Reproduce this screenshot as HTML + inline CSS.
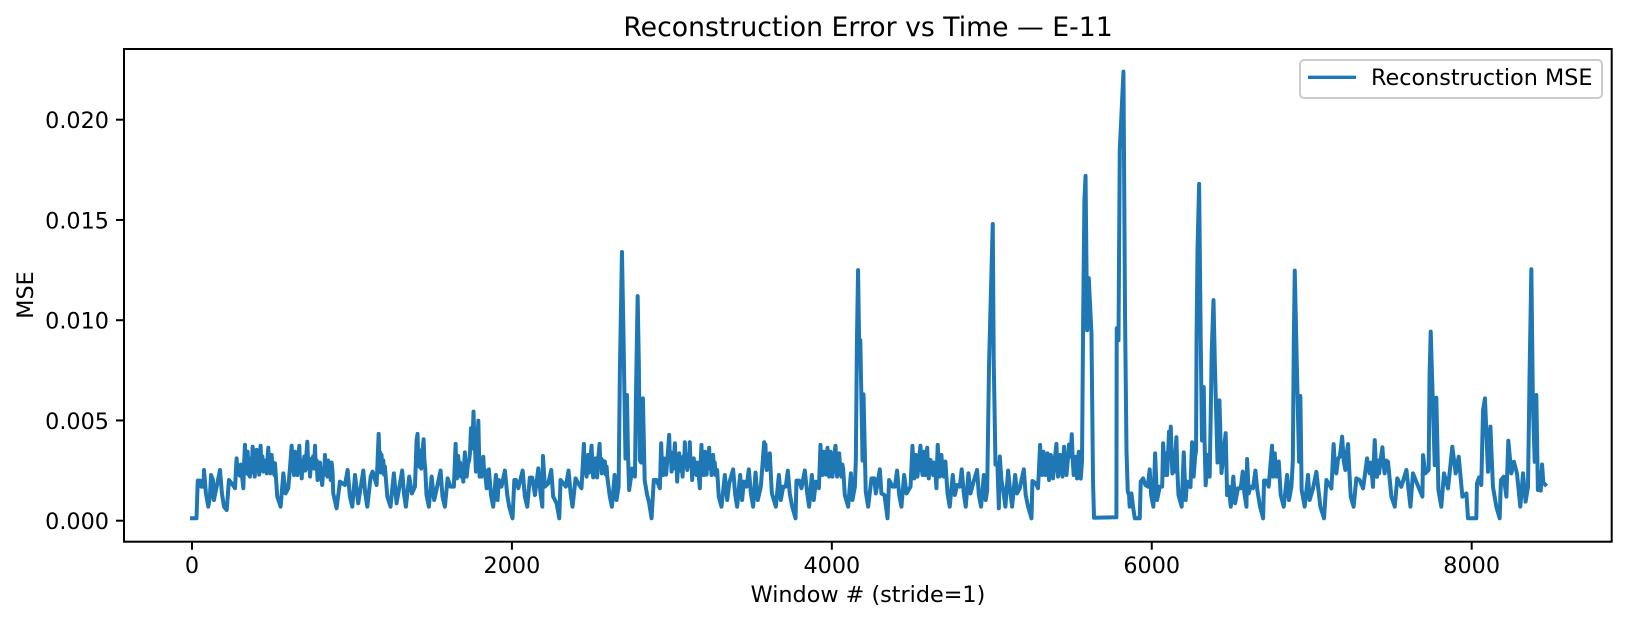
<!DOCTYPE html>
<html lang="en">
<head>
<meta charset="utf-8">
<title>Reconstruction Error vs Time — E-11</title>
<style>
  html, body { margin: 0; padding: 0; background: #ffffff; }
  body { width: 1628px; height: 622px; overflow: hidden; }
  svg { display: block; }
  text { font-family: "DejaVu Sans", "Liberation Sans", sans-serif; fill: #000000; }
</style>
</head>
<body>
<svg id="chart" xmlns="http://www.w3.org/2000/svg" width="1628" height="622" viewBox="0 0 1628 622">
  <rect x="0" y="0" width="1628" height="622" fill="#ffffff"/>
  <text x="868" y="36" font-size="26.7" text-anchor="middle">Reconstruction Error vs Time — E-11</text>
  <g id="marks"></g>
  <g id="ticks"></g>
  <rect x="124" y="49" width="1487.7" height="492.7" fill="none" stroke="#000000" stroke-width="2"/>
  <text x="868" y="602" font-size="22.3" text-anchor="middle">Window # (stride=1)</text>
  <text transform="translate(33 295) rotate(-90)" font-size="22.3" text-anchor="middle">MSE</text>
  <g>
    <rect x="1300" y="60" width="302" height="38" rx="4" ry="4" fill="#ffffff" fill-opacity="0.8" stroke="#cccccc" stroke-width="2"/>
    <line x1="1308" y1="77.3" x2="1356" y2="77.3" stroke="#1f77b4" stroke-width="3.4"/>
    <text x="1371" y="85" font-size="22.3">Reconstruction MSE</text>
  </g>
</svg>
<script>
const xTickValues = [0, 2000, 4000, 6000, 8000];
const yTickValues = [0, 0.005, 0.01, 0.015, 0.02];
const yTickLabels = ["0.000", "0.005", "0.010", "0.015", "0.020"];

const windows = [
0,28,36,50,58,72,75,87,102,112,
119,131,137,154,175,187,200,217,231,248,
269,275,279,285,292,298,306,313,
321,326,331,336,340,344,348,353,
358,362,368,373,379,384,388,392,
398,404,410,415,420,425,429,434,
440,446,452,457,462,467,472,477,
483,487,490,495,498,504,510,515,
519,533,554,571,585,602,
612,623,628,633,638,644,649,654,
659,665,671,676,681,686,691,696,
702,708,715,721,727,733,738,744,
750,757,763,769,774,779,785,790,
795,800,807,814,821,826,831,836,
842,847,851,856,861,867,873,879,
883,904,925,956,973,987,1002,1019,1039,1071,
1083,1096,1117,1129,1154,
1167,1172,1177,1181,1185,1190,1196,1201,1206,1213,
1221,1241,1262,1279,1314,1325,1337,1358,1375,1394,
1404,1410,1415,1421,1427,1433,1440,1448,1453,1458,
1466,1481,1498,1514,1533,1554,1566,1581,1598,1616,1637,
1648,1652,1656,1660,1664,1670,1676,1681,
1690,1696,1701,1706,1711,1717,1725,1733,
1738,1744,1752,1760,1765,1769,1775,1783,
1790,1795,1798,1804,1810,1815,1821,1826,
1831,1837,1842,1856,1869,1883,1900,1910,1919,1935,
1956,1971,1983,2004,2015,2025,2040,2067,2081,2096,
2112,2127,2144,2165,2179,2190,2194,2206,2227,2246,
2258,2279,2296,2304,2321,2337,2354,2367,2379,2398,
2415,2435,
2450,2455,2459,2463,2467,2472,2477,2482,
2487,2492,2498,2503,2508,2513,2518,2523,
2528,2533,2538,2543,2548,2553,2558,2562,
2568,2574,2581,2587,2592,2596,
2612,2625,2642,2654,2667,2675,2688,2698,2710,2719,
2726,2733,2752,2769,2776,2786,2793,2800,2808,2819,
2830,2845,2858,2873,2887,2904,2925,
2933,2938,2946,2952,2958,2964,2971,2977,
2983,2988,2993,2998,3004,3009,3014,3019,
3024,3028,3033,3040,3046,3052,3058,3067,
3072,3076,3081,3086,3091,3096,3102,3107,
3112,3117,3122,3127,3132,3137,3143,3148,
3154,3160,3167,3175,3180,3185,3190,3195,
3200,3204,3208,3213,3217,3222,3228,3233,
3238,3243,3248,3253,3258,3263,3268,3273,
3283,3293,3310,3331,3346,3358,3383,3396,3408,3427,
3439,3450,3467,3481,3494,3508,3523,3537,3556,
3577,3581,3585,3589,3593,3600,3606,3612,
3618,3625,3650,3669,3681,3696,3712,3725,3737,3752,
3773,3779,3796,3810,3831,3846,3858,3875,3887,3900,3919,
3929,3934,3940,3945,3950,3956,3962,3967,
3973,3978,3983,3987,3992,3998,4004,4010,
4016,4023,4028,4033,4040,4046,4053,4060,
4066,4071,4081,4102,4119,4129,4144,4150,4157,4164,
4172,4178,4192,4198,4206,4212,4227,4248,4265,4275,
4300,4310,4329,4348,4358,4379,4394,4408,4421,4435,
4452,4467,4492,
4504,4509,4515,4520,4525,4530,4535,4545,
4554,4560,4567,4571,4575,4580,4585,4590,
4596,4601,4606,4611,4617,4625,4633,4639,
4644,4649,4654,4658,4662,4668,4675,4680,
4685,4692,4700,4705,4710,4723,4737,4756,4769,4783,
4800,4812,4825,4837,4854,4867,4883,4908,4919,4933,
4950,4962,4971,4983,4996,5006,5012,5023,5035,5044,
5050,5060,5071,5085,5102,5112,5127,5146,5158,5175,
5200,5212,5227,5248,5254,5275,5289,
5302,5307,5314,5318,5323,5329,5335,5341,
5348,5353,5358,5363,5369,5376,5383,5390,
5397,5404,5409,5414,5421,5429,5435,5442,
5447,5452,5458,5467,5475,5483,5492,5500,
5506,5512,5517,5523,5528,5533,5538,5544,
5550,5556,5564,5571,5579,5586,5596,5606,5623,5633,
5639,5779,5781,5792,5800,5812,5823,5833,5842,5850,
5858,5862,5873,5883,5894,5925,5931,5946,5960,5975,
5987,5996,6010,6021,6033,6050,6065,6071,6081,6087,
6096,6108,6113,6119,6124,6129,6135,6142,6148,6154,
6160,6167,6187,6200,6212,6221,6242,6252,6262,6271,
6277,6280,6286,6296,6306,6314,6325,6330,6337,6352,
6362,6368,6375,6386,6394,6411,6423,6436,6462,6471,
6481,6494,6510,6521,6539,6556,6569,6579,6592,6596,
6606,6617,6633,6648,6660,6677,6696,6702,6717,6731,
6752,6755,6758,6763,6769,6774,6779,6787,
6794,6806,6825,6846,6858,6873,6882,6888,6894,6908,
6921,6929,6937,6956,6977,6987,7008,7029,7054,7077,
7092,7123,
7137,7145,7154,7165,7175,7182,7190,7200,
7210,7218,7227,7235,7244,7262,7279,7300,7321,
7346,7354,7362,7370,7383,7390,7394,7401,7408,7414,
7421,7430,7442,7449,7456,7466,7477,7498,7519,7535,
7560,7592,7617,7633,7658,7692,7696,7710,7731,7737,
7744,7758,7769,7779,7792,7810,7827,7852,7879,7900,
7919,7942,7967,7977,8029,8033,8046,8060,8071,8083,
8102,8117,8133,8154,8175,8183,8200,8217,8229,8248,
8264,8283,8304,8321,8337,8352,8362,8373,8383,8394,
8404,8414,8425,8432,8440,8448,8460
];

const mseMilli = [
.12,.12,2.0,2.0,1.7,1.7,2.53,1.36,.70,1.2,
2.28,2.03,1.03,1.7,2.53,1.36,.70,.53,2.03,1.86,
1.62,2.6,3.11,2.4,2.7,2.25,2.8,2.2,
1.62,2.9,3.78,2.5,3.2,2.35,3.44,2.3,
3.1,2.2,3.0,2.4,3.69,2.6,3.2,2.2,
2.9,3.53,2.5,3.1,2.3,3.2,3.74,2.6,
3.2,2.45,3.0,2.5,2.9,2.36,3.1,3.64,
2.6,3.0,2.36,2.9,3.28,2.5,2.9,2.28,
2.86,1.2,.70,2.36,1.36,1.62,
2.6,3.74,2.5,3.1,2.28,3.44,2.4,3.0,
2.28,3.2,3.74,2.5,3.0,2.11,2.9,2.53,
3.2,2.5,3.3,3.94,2.6,3.1,2.2,3.0,
2.7,3.2,2.6,3.74,2.6,3.0,2.03,2.9,
2.4,2.9,2.2,1.78,2.6,2.3,3.28,2.4,
2.9,2.2,3.0,2.5,2.86,2.03,2.9,2.4,
1.36,.62,1.95,1.78,2.53,1.2,.70,2.28,.87,2.5,
1.36,.70,2.2,2.45,1.78,
4.33,3.0,3.4,2.4,3.28,2.5,3.0,2.3,2.7,2.0,
1.2,.70,2.36,.87,2.5,1.36,.70,2.2,1.36,1.7,
4.03,4.33,3.0,2.7,3.5,2.6,3.4,4.06,3.0,2.62,
1.28,.70,2.2,1.03,1.7,2.5,1.2,.70,2.11,1.7,1.7,
3.83,2.7,2.11,2.9,3.23,2.4,2.9,2.2,
2.7,1.95,2.8,3.41,2.5,2.2,2.8,3.03,
3.4,4.61,3.6,5.44,4.0,3.69,2.45,3.5,
4.99,3.2,2.2,2.9,2.2,2.8,3.19,2.4,
2.53,2.0,1.62,2.56,1.28,.70,2.28,1.03,2.03,1.7,
2.5,1.28,.70,.12,2.03,2.03,1.62,2.5,1.2,.70,
2.15,2.15,1.28,2.61,1.36,.70,3.23,1.7,1.86,2.53,
1.2,.87,.12,2.03,1.86,1.7,2.5,1.36,.70,2.11,
1.86,1.62,
3.83,2.6,3.1,2.4,2.2,2.9,3.28,2.4,
2.9,3.2,3.74,2.7,2.16,2.9,2.4,3.11,
2.5,2.16,3.0,3.4,3.83,2.8,3.1,2.36,
3.0,2.5,2.95,2.3,2.7,2.2,
1.2,.70,2.28,1.03,1.7,7.5,13.4,9.0,3.1,6.27,
3.2,1.53,2.6,2.2,6.5,11.2,8.0,3.0,2.9,6.1,
2.0,1.3,.88,.12,2.03,2.03,1.62,
3.86,2.8,2.28,3.1,2.86,2.3,3.0,3.6,
4.28,3.0,3.4,2.45,3.36,2.6,3.3,3.86,
2.7,3.1,1.95,3.0,3.36,2.5,3.1,2.2,
3.2,2.7,3.91,2.8,3.2,2.53,3.3,2.8,
3.91,2.7,3.1,2.03,2.9,3.11,2.4,2.9,
2.28,2.9,2.3,1.62,2.9,3.78,2.6,3.1,
2.28,3.0,3.44,2.5,2.3,3.0,2.7,3.64,
2.6,3.0,2.28,2.9,3.28,2.5,2.9,2.28,
2.53,1.2,.70,2.28,1.03,1.86,2.56,1.28,.70,2.28,
1.03,1.95,1.7,2.56,1.36,.70,2.4,1.03,1.7,
3.91,2.9,3.8,2.8,2.53,3.1,2.7,3.36,
2.4,1.36,.70,2.28,1.03,1.7,1.7,2.5,1.36,.70,
.12,2.0,2.0,1.62,2.5,1.36,.70,2.28,1.03,1.95,1.62,
3.78,2.8,2.28,3.0,3.44,2.5,2.3,3.0,
3.64,2.6,2.2,2.9,3.44,2.6,2.2,2.9,
3.3,3.74,2.7,2.2,2.9,3.36,2.5,2.2,
2.8,2.56,1.28,.70,2.36,1.03,1.7,3.0,9.0,12.5,
8.0,9.0,3.0,6.3,3.5,1.45,.70,2.11,2.11,1.36,
2.56,1.36,1.28,.12,2.03,1.7,1.7,2.5,1.28,.70,
2.28,1.36,1.7,
3.73,2.8,2.11,2.9,3.28,2.5,2.2,3.0,
3.74,2.7,2.28,3.0,3.44,2.5,2.28,3.0,
3.64,2.7,2.11,2.8,3.03,2.5,2.28,2.9,
2.7,2.2,1.62,2.9,3.78,2.7,2.2,2.9,
3.28,2.5,2.2,2.7,2.95,1.36,.70,2.28,1.28,1.78,
1.7,2.56,1.36,.70,2.36,1.36,1.86,2.53,1.28,.70,
2.28,1.03,1.5,7.86,11.85,14.8,8.0,2.8,2.86,.62,
3.2,2.03,1.53,.70,2.5,1.7,.70,2.28,1.36,1.62,
2.56,1.28,.70,.12,1.98,1.86,1.62,
3.78,2.8,2.28,3.0,3.44,2.5,2.28,2.9,
3.36,2.6,2.03,2.9,3.28,2.5,2.11,2.9,
3.3,3.83,2.7,2.2,2.9,3.28,2.5,2.2,
3.0,3.69,2.7,2.28,3.0,3.8,3.2,4.31,
3.0,2.28,2.9,3.19,2.5,2.11,2.9,3.44,
2.4,2.1,3.0,10.0,16.0,17.2,9.5,12.1,9.35,1.9,
.15,.17,9.6,9.0,18.5,20.5,22.4,10.2,3.5,1.45,
1.28,.70,1.36,.70,.12,.12,1.95,2.11,1.78,1.7,
2.56,1.28,.70,3.36,1.03,1.7,1.7,3.86,2.28,3.36,
2.28,4.44,3.2,4.69,3.3,2.36,3.1,2.45,3.4,4.16,
2.5,1.28,.70,3.41,1.03,1.95,1.67,3.91,2.2,3.19,
3.5,9.0,13.5,16.8,9.0,4.0,6.66,4.0,1.77,3.28,
2.2,5.0,8.5,11.0,8.0,2.9,6.0,2.38,4.37,1.28,
1.7,.70,2.2,.87,1.62,1.62,2.45,1.36,.70,3.08,
1.36,1.7,1.62,2.5,1.53,.70,.12,2.0,2.0,1.7,
3.74,2.8,2.2,2.9,3.36,2.5,2.2,2.7,
2.95,1.28,.70,2.28,1.03,1.7,3.0,9.0,12.47,7.35,
2.94,6.22,1.53,.70,2.28,1.03,1.61,2.44,.70,.12,
2.03,1.61,
3.82,2.8,2.36,3.1,3.19,3.6,4.19,3.0,
2.53,3.3,3.82,2.5,1.2,.70,2.11,2.03,1.61,
3.11,2.6,2.36,2.9,1.69,3.3,4.02,2.8,2.19,3.0,
2.36,3.0,3.66,2.8,2.36,3.0,2.94,1.2,.70,2.11,
1.69,2.53,.70,2.36,1.86,1.2,3.27,2.36,2.53,7.35,
9.43,5.69,2.77,6.13,1.53,.70,2.36,1.61,3.69,2.36,
3.19,1.2,1.36,.12,.12,1.86,2.16,1.78,5.52,6.1,
2.44,4.69,1.69,.70,.12,2.03,2.19,1.2,3.99,2.36,
2.94,2.36,.70,2.36,.95,1.69,7.35,12.54,5.69,2.94,
6.27,1.53,2.4,1.5,2.8,1.9,1.8
];

const AX_LEFT = 124, AX_BOTTOM = 541.7;
function xScale(w) { return 192 + w * 0.15996; }
function yScale(v) { return 520.7 - v * 20050; }

const NS = "http://www.w3.org/2000/svg";
const marks = document.getElementById("marks");
const ticks = document.getElementById("ticks");

let d = "";
const n = Math.min(windows.length, mseMilli.length);
for (let i = 0; i < n; i++) {
  d += (i ? "L" : "M") + xScale(windows[i]).toFixed(2) + " " + yScale(mseMilli[i] / 1000).toFixed(2);
}
const line = document.createElementNS(NS, "path");
line.setAttribute("d", d);
line.setAttribute("fill", "none");
line.setAttribute("stroke", "#1f77b4");
line.setAttribute("stroke-width", "4");
line.setAttribute("stroke-linejoin", "round");
line.setAttribute("stroke-linecap", "square");


marks.appendChild(line);

xTickValues.forEach(function (v) {
  const x = xScale(v);
  const mark = document.createElementNS(NS, "line");
  mark.setAttribute("x1", x);
  mark.setAttribute("x2", x);
  mark.setAttribute("y1", AX_BOTTOM);
  mark.setAttribute("y2", AX_BOTTOM + 8);
  mark.setAttribute("stroke", "#000000");
  mark.setAttribute("stroke-width", "2");
  
  
  ticks.appendChild(mark);
  const label = document.createElementNS(NS, "text");
  label.setAttribute("x", x);
  label.setAttribute("y", 573);
  label.setAttribute("font-size", "22.3");
  label.setAttribute("text-anchor", "middle");
  
  
  label.textContent = String(v);
  ticks.appendChild(label);
});

yTickValues.forEach(function (v, i) {
  const y = yScale(v);
  const mark = document.createElementNS(NS, "line");
  mark.setAttribute("x1", AX_LEFT - 8);
  mark.setAttribute("x2", AX_LEFT);
  mark.setAttribute("y1", y);
  mark.setAttribute("y2", y);
  mark.setAttribute("stroke", "#000000");
  mark.setAttribute("stroke-width", "2");
  
  
  ticks.appendChild(mark);
  const label = document.createElementNS(NS, "text");
  label.setAttribute("x", 109);
  label.setAttribute("y", y + 8.3);
  label.setAttribute("font-size", "22.3");
  label.setAttribute("text-anchor", "end");
  
  
  label.textContent = yTickLabels[i];
  ticks.appendChild(label);
});
</script>
</body>
</html>
